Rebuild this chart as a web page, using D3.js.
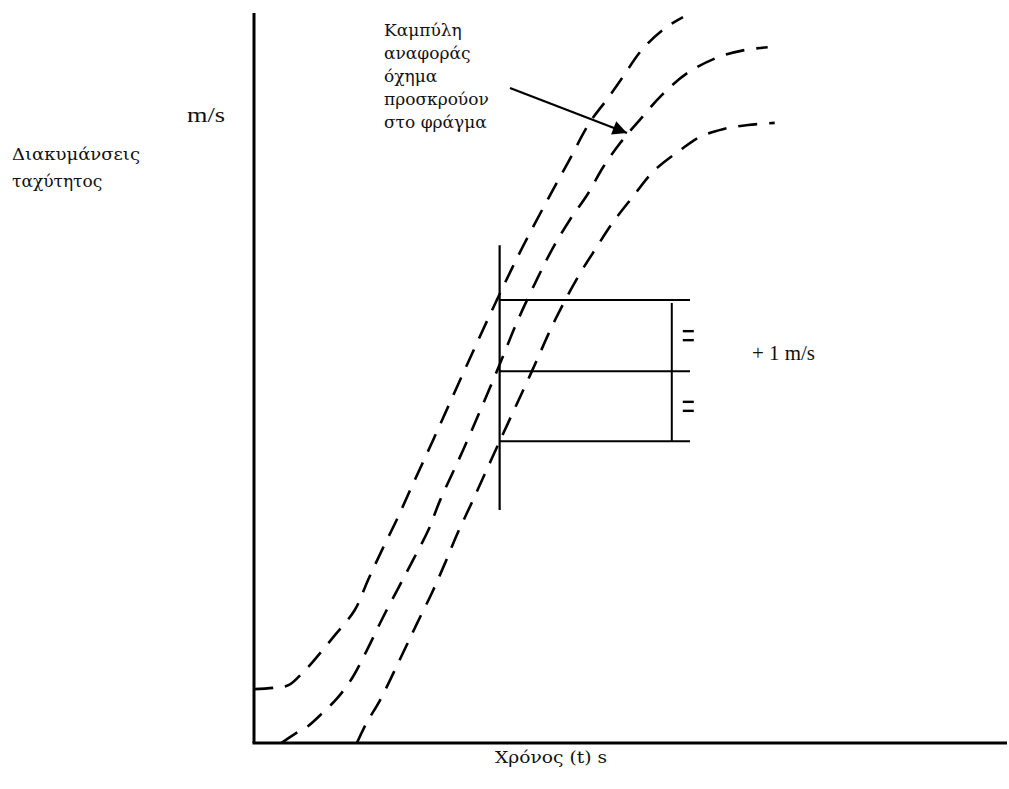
<!DOCTYPE html>
<html>
<head>
<meta charset="utf-8">
<script src="https://cdn.jsdelivr.net/npm/d3@7"></script>
<style>
  body { margin: 0; background: #fff; }
</style>
</head>
<body>
<script>
// time (s) / speed (m/s)
var upperCurve = [
    [0, 0.77], [0.30, 0.79], [0.50, 0.83], [0.70, 1.01], [0.84, 1.16],
    [1.13, 1.51], [1.44, 1.90], [1.63, 2.33], [1.83, 2.76], [2.04, 3.19],
    [2.23, 3.61], [2.56, 4.33], [3.01, 5.33], [3.47, 6.33], [3.84, 7.09],
    [4.27, 7.90], [4.49, 8.30], [4.80, 8.87], [5.04, 9.19], [5.26, 9.50],
    [5.54, 9.90], [5.87, 10.21], [6.13, 10.37]
];
var referenceCurve = [
    [0.39, 0], [0.63, 0.16], [0.77, 0.24], [0.99, 0.44], [1.19, 0.64],
    [1.41, 0.94], [1.63, 1.36], [1.84, 1.79], [2.06, 2.21], [2.27, 2.61],
    [2.49, 3.04], [2.66, 3.47], [2.99, 4.19], [3.47, 5.31], [3.77, 6.04],
    [4.06, 6.66], [4.27, 7.07], [4.51, 7.47], [4.76, 7.83], [4.99, 8.23],
    [5.23, 8.57], [5.51, 8.90], [5.83, 9.26], [6.19, 9.57], [6.61, 9.79],
    [7.01, 9.90], [7.34, 9.94]
];
var lowerCurve = [
    [1.47, 0], [1.61, 0.29], [1.80, 0.61], [2.13, 1.29], [2.33, 1.71],
    [2.54, 2.14], [2.73, 2.57], [2.91, 3.00], [3.11, 3.43], [3.51, 4.31],
    [3.97, 5.31], [4.30, 6.04], [4.63, 6.66], [4.90, 7.09], [5.13, 7.44],
    [5.41, 7.80], [5.70, 8.16], [6.09, 8.47], [6.37, 8.66], [6.70, 8.77],
    [7.06, 8.83], [7.44, 8.86]
];

// the +/- 1 m/s band at the check time
var checkTime = 3.51;
var bandLevels = [6.33, 5.31, 4.31];
var bandEnd = 6.23;
var bracketTime = 5.97;
var checkLine = [3.33, 7.11];

var annotationLines = ["Καμπύλη", "αναφοράς", "όχημα", "προσκρούον", "στο φράγμα"];

let w = 1009;
let h = 789;
let serif = "'Liberation Serif', serif";
let greekSerif = "'DejaVu Serif', serif";

let svg = d3.select("body")
    .append("svg")
    .attr("width", w)
    .attr("height", h);

let x = d3.scaleLinear().domain([0, 10.76]).range([254, 1007]);
let y = d3.scaleLinear().domain([0, 10.43]).range([743, 13]);

let defs = svg.append("defs");
defs.append("clipPath")
    .attr("id", "plot")
    .append("rect")
    .attr("x", x(0)).attr("y", 0)
    .attr("width", 760).attr("height", y(0));

let line = d3.line()
    .x(function(d) { return x(d[0]); })
    .y(function(d) { return y(d[1]); })
    .curve(d3.curveCatmullRom);

// dashed speed curves
svg.selectAll("path.curve")
    .data([upperCurve, referenceCurve, lowerCurve])
    .enter()
    .append("path")
    .attr("class", "curve")
    .attr("d", line)
    .attr("clip-path", "url(#plot)")
    .attr("fill", "none")
    .attr("stroke", "#000")
    .attr("stroke-width", 2.6)
    .attr("stroke-dasharray", "19,12");

// axes (no ticks)
svg.append("line")
    .attr("x1", x(0)).attr("y1", y(0))
    .attr("x2", x(0)).attr("y2", y(10.43))
    .attr("stroke", "#000").attr("stroke-width", 3);
svg.append("line")
    .attr("x1", x(0) - 1.5).attr("y1", y(0))
    .attr("x2", x(10.76)).attr("y2", y(0))
    .attr("stroke", "#000").attr("stroke-width", 3);

// check line + band
svg.append("line")
    .attr("x1", x(checkTime)).attr("y1", y(checkLine[0]))
    .attr("x2", x(checkTime)).attr("y2", y(checkLine[1]))
    .attr("stroke", "#000").attr("stroke-width", 2.2);

svg.selectAll("line.band")
    .data(bandLevels)
    .enter()
    .append("line")
    .attr("class", "band")
    .attr("x1", x(checkTime)).attr("x2", x(bandEnd))
    .attr("y1", function(d) { return y(d); })
    .attr("y2", function(d) { return y(d); })
    .attr("stroke", "#000").attr("stroke-width", 2);

svg.append("line")
    .attr("x1", x(bracketTime)).attr("x2", x(bracketTime))
    .attr("y1", y(bandLevels[0]) + 3).attr("y2", y(bandLevels[2]))
    .attr("stroke", "#000").attr("stroke-width", 2);

// "=" marks halfway between the band lines
let mids = [(bandLevels[0] + bandLevels[1]) / 2, (bandLevels[1] + bandLevels[2]) / 2];
mids.forEach(function(m) {
    [-4.5, 4.5].forEach(function(off) {
        svg.append("line")
            .attr("x1", x(bracketTime) + 11).attr("x2", x(bracketTime) + 22)
            .attr("y1", y(m) + off).attr("y2", y(m) + off)
            .attr("stroke", "#000").attr("stroke-width", 2.4);
    });
});

// arrow pointing to the reference curve
defs.append("marker")
    .attr("id", "head")
    .attr("viewBox", "0 0 10 10")
    .attr("refX", 10).attr("refY", 5)
    .attr("markerWidth", 8).attr("markerHeight", 6.5)
    .attr("markerUnits", "strokeWidth")
    .attr("orient", "auto")
    .append("path")
    .attr("d", "M0,0 L10,5 L0,10 Z")
    .attr("fill", "#000");

svg.append("line")
    .attr("x1", 510).attr("y1", 88)
    .attr("x2", 627).attr("y2", 133)
    .attr("stroke", "#000").attr("stroke-width", 2.2)
    .attr("marker-end", "url(#head)");

// labels
function label(txt, lx, ly, len, fam, size) {
    let t = svg.append("text")
        .attr("x", lx).attr("y", ly)
        .style("font-family", fam || serif)
        .style("font-size", (size || 20) + "px")
        .attr("fill", "#111")
        .text(txt);
    if (len) t.attr("textLength", len).attr("lengthAdjust", "spacingAndGlyphs");
    return t;
}

annotationLines.forEach(function(d, i) {
    label(d, 384, 36 + i * 23, null, greekSerif, 17);
});

label("m/s", 187, 122, 38);
label("Διακυμάνσεις", 12, 160, 128, greekSerif, 17);
label("ταχύτητος", 12, 187, null, greekSerif, 17);
label("+ 1 m/s", 752, 360, 63);
label("Χρόνος (t) s", 495, 763, 112, greekSerif, 17);
</script>
</body>
</html>
